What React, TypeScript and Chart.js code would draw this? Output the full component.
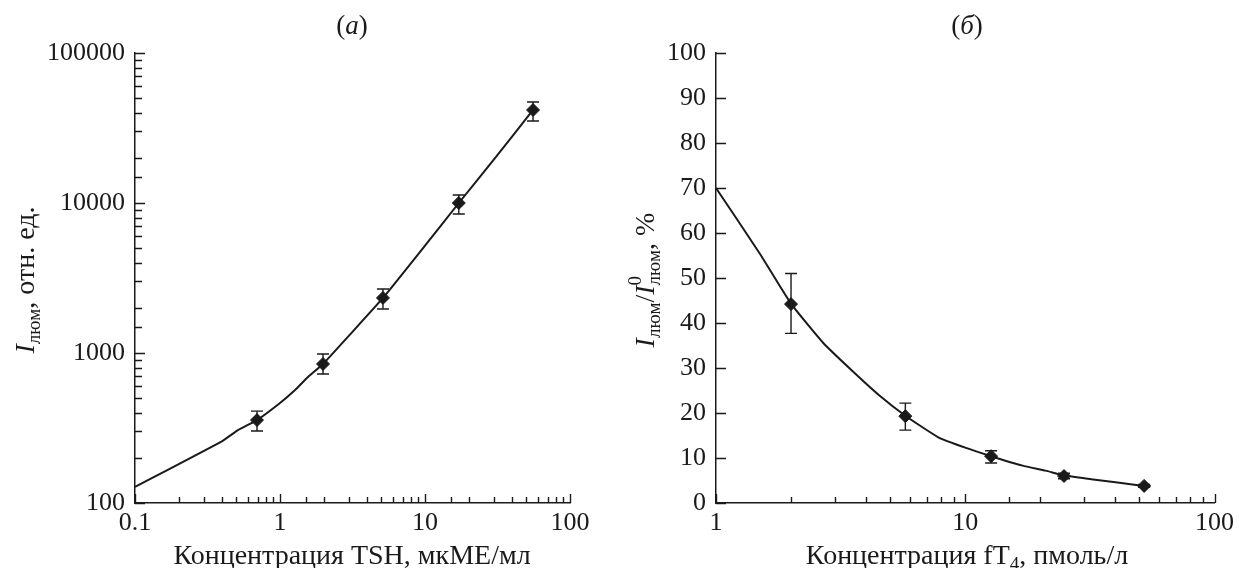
import React, { useEffect, useRef } from 'react';
import { Chart, registerables } from 'chart.js';

Chart.register(...registerables);

const FONT = '"Liberation Serif", "Times New Roman", "DejaVu Serif", serif';
const INK = '#1a1a1a';

// ---------- Panel (а): TSH ----------
const tshCurveX = [0.1, 0.4, 0.513, 0.694, 1.0, 1.27, 1.56, 1.98, 3, 5.13, 10, 17.1, 30, 55.6];
const tshCurveY = [128, 259, 306, 357, 464, 567, 692, 845, 1310, 2330, 5200, 10000, 19600, 41700];
const tshX = [0.694, 1.98, 5.13, 17.1, 55.6];
const tshY = [357, 845, 2330, 10000, 41700];
const tshErrLo = [302, 725, 1965, 8450, 35200];
const tshErrHi = [410, 985, 2670, 11300, 47100];
const tshXTicks = [0.1, 1, 10, 100];
const tshXTickLabels = ['0.1', '1', '10', '100'];
const tshYTicks = [100, 1000, 10000, 100000];
const tshYTickLabels = ['100', '1000', '10000', '100000'];

// ---------- Panel (б): fT4 ----------
const ft4CurveX = [1, 1.5, 2, 2.7, 3.5, 4.5, 5.75, 7.8, 10, 12.7, 17, 21, 25, 32, 52];
const ft4CurveY = [70, 55.4, 44.3, 35.5, 29.5, 24, 19.4, 14.6, 12.3, 10.4, 8.3, 7.2, 6.1, 5.3, 3.8];
const ft4X = [2.0, 5.75, 12.7, 24.9, 52.2];
const ft4Y = [44.2, 19.3, 10.4, 6.0, 3.8];
const ft4ErrLo = [37.7, 16.2, 8.9, 5.4, 3.5];
const ft4ErrHi = [51.0, 22.2, 11.6, 6.6, 4.1];
const ft4XTicks = [1, 10, 100];
const ft4XTickLabels = ['1', '10', '100'];
const ft4YTicks = [0, 10, 20, 30, 40, 50, 60, 70, 80, 90, 100];
const ft4YTickLabels = ['0', '10', '20', '30', '40', '50', '60', '70', '80', '90', '100'];

type Seg = { t: string; italic?: boolean; scale?: number; dy?: number; noAdvance?: boolean };

function drawRich(ctx: CanvasRenderingContext2D, segs: Seg[], px: number, py: number, size: number, rotate: boolean) {
  ctx.save();
  ctx.translate(px, py);
  if (rotate) ctx.rotate(-Math.PI / 2);
  ctx.fillStyle = INK;
  ctx.textBaseline = 'alphabetic';
  ctx.textAlign = 'left';
  const fontOf = (s: Seg) => `${s.italic ? 'italic ' : ''}${size * (s.scale || 1)}px ${FONT}`;
  let total = 0;
  segs.forEach((s) => {
    ctx.font = fontOf(s);
    if (!s.noAdvance) total += ctx.measureText(s.t).width;
  });
  let x = -total / 2;
  segs.forEach((s) => {
    ctx.font = fontOf(s);
    ctx.fillText(s.t, x, (s.dy || 0) * size);
    if (!s.noAdvance) x += ctx.measureText(s.t).width;
  });
  ctx.restore();
}

function findLabel(v: number, vals: number[], labels: string[]) {
  for (let i = 0; i < vals.length; i++) {
    if (Math.abs(v - vals[i]) <= Math.abs(vals[i]) * 1e-6 + 1e-9) return labels[i];
  }
  return '';
}

type PanelParams = {
  width: number;
  curveX: number[];
  curveY: number[];
  ptsX: number[];
  ptsY: number[];
  errLo: number[];
  errHi: number[];
  xMin: number;
  xMax: number;
  xTicks: number[];
  xLabels: string[];
  yType: 'logarithmic' | 'linear';
  yMin: number;
  yMax: number;
  yTicks: number[];
  yLabels: string[];
  yAxisWidth: number;
  padRight: number;
  yMinorTicks: boolean;
  panelLabel: Seg[];
  panelLabelX: number;
  yTitle: Seg[];
  yTitleX: number;
  xTitle: Seg[];
  xTitleX: number;
};

function makeConfig(p: PanelParams): any {
  const isMajor = (v: number, vals: number[]) => findLabel(v, vals, vals.map(() => 'x')) !== '';

  const decorPlugin = {
    id: 'decor',
    afterDatasetsDraw(chart: any) {
      const ctx: CanvasRenderingContext2D = chart.ctx;
      const xs = chart.scales.x;
      const ys = chart.scales.y;
      ctx.save();
      ctx.strokeStyle = INK;
      ctx.lineWidth = 1.4;
      for (let i = 0; i < p.ptsX.length; i++) {
        const px = xs.getPixelForValue(p.ptsX[i]);
        const y1 = ys.getPixelForValue(p.errLo[i]);
        const y2 = ys.getPixelForValue(p.errHi[i]);
        ctx.beginPath();
        ctx.moveTo(px, y1);
        ctx.lineTo(px, y2);
        ctx.moveTo(px - 6, y1);
        ctx.lineTo(px + 6, y1);
        ctx.moveTo(px - 6, y2);
        ctx.lineTo(px + 6, y2);
        ctx.stroke();
      }
      ctx.restore();
    },
    afterDraw(chart: any) {
      const ctx: CanvasRenderingContext2D = chart.ctx;
      const xs = chart.scales.x;
      const ys = chart.scales.y;
      const area = chart.chartArea;
      ctx.save();
      ctx.strokeStyle = INK;
      ctx.lineWidth = 1.4;
      ctx.beginPath();
      xs.ticks.forEach((t: any) => {
        const px = Math.round(xs.getPixelForValue(t.value)) + 0.5;
        const len = isMajor(t.value, p.xTicks) ? 9 : 6;
        ctx.moveTo(px, area.bottom);
        ctx.lineTo(px, area.bottom - len);
      });
      ys.ticks.forEach((t: any) => {
        const major = isMajor(t.value, p.yTicks);
        if (!major && !p.yMinorTicks) return;
        const py = Math.round(ys.getPixelForValue(t.value)) + 0.5;
        const len = major ? 10 : 7;
        ctx.moveTo(area.left, py);
        ctx.lineTo(area.left + len, py);
      });
      ctx.stroke();
      ctx.restore();
      drawRich(ctx, p.panelLabel, p.panelLabelX, 34, 27, false);
      drawRich(ctx, p.xTitle, p.xTitleX, 564, 28, false);
      drawRich(ctx, p.yTitle, p.yTitleX, 280, 28, true);
    },
  };

  const yScale: any = {
    type: p.yType,
    min: p.yMin,
    max: p.yMax,
    grid: { display: false, drawTicks: false },
    border: { display: true, color: INK, width: 1.5 },
    ticks: {
      color: INK,
      font: { family: FONT, size: 26 },
      padding: 10,
      autoSkip: false,
      callback: (v: number) => findLabel(v, p.yTicks, p.yLabels),
    },
    afterFit: (s: any) => {
      s.width = p.yAxisWidth;
    },
  };
  if (p.yType === 'linear') yScale.ticks.stepSize = 10;

  return {
    type: 'scatter',
    data: {
      datasets: [
        {
          data: p.curveX.map((x, i) => ({ x, y: p.curveY[i] })),
          showLine: true,
          borderColor: INK,
          borderWidth: 2,
          pointRadius: 0,
          tension: 0.15,
        },
        {
          data: p.ptsX.map((x, i) => ({ x, y: p.ptsY[i] })),
          showLine: false,
          pointStyle: 'rectRot',
          pointRadius: 6.5,
          backgroundColor: INK,
          borderColor: INK,
          borderWidth: 1,
        },
      ],
    },
    options: {
      responsive: false,
      animation: false,
      events: [],
      layout: { padding: { left: 0, top: 53, right: p.padRight, bottom: 0 } },
      plugins: { legend: { display: false }, tooltip: { enabled: false }, title: { display: false } },
      scales: {
        x: {
          type: 'logarithmic',
          position: 'bottom',
          min: p.xMin,
          max: p.xMax,
          grid: { display: false, drawTicks: false },
          border: { display: true, color: INK, width: 1.5 },
          ticks: {
            color: INK,
            font: { family: FONT, size: 26 },
            padding: 5,
            autoSkip: false,
            maxRotation: 0,
            minRotation: 0,
            callback: (v: number) => findLabel(v, p.xTicks, p.xLabels),
          },
          afterFit: (s: any) => {
            s.height = 65;
          },
        },
        y: yScale,
      },
    },
    plugins: [decorPlugin],
  };
}

function Panel({ left, params }: { left: number; params: PanelParams }) {
  const ref = useRef<HTMLCanvasElement>(null);
  useEffect(() => {
    const chart = new Chart(ref.current as HTMLCanvasElement, makeConfig(params));
    return () => chart.destroy();
  }, []);
  return (
    <canvas
      ref={ref}
      width={params.width}
      height={568}
      style={{ position: 'absolute', left, top: 0, width: params.width, height: 568 }}
    />
  );
}

const panelA: PanelParams = {
  width: 620,
  curveX: tshCurveX,
  curveY: tshCurveY,
  ptsX: tshX,
  ptsY: tshY,
  errLo: tshErrLo,
  errHi: tshErrHi,
  xMin: 0.1,
  xMax: 100,
  xTicks: tshXTicks,
  xLabels: tshXTickLabels,
  yType: 'logarithmic',
  yMin: 100,
  yMax: 100000,
  yTicks: tshYTicks,
  yLabels: tshYTickLabels,
  yAxisWidth: 135,
  padRight: 50,
  yMinorTicks: true,
  panelLabel: [{ t: '(' }, { t: 'а', italic: true }, { t: ')' }],
  panelLabelX: 352,
  yTitle: [{ t: 'I', italic: true }, { t: 'люм', scale: 0.68, dy: 0.22 }, { t: ', отн. ед.' }],
  yTitleX: 34,
  xTitle: [{ t: 'Концентрация TSH, мкМЕ/мл' }],
  xTitleX: 352,
};

const panelB: PanelParams = {
  width: 619,
  curveX: ft4CurveX,
  curveY: ft4CurveY,
  ptsX: ft4X,
  ptsY: ft4Y,
  errLo: ft4ErrLo,
  errHi: ft4ErrHi,
  xMin: 1,
  xMax: 100,
  xTicks: ft4XTicks,
  xLabels: ft4XTickLabels,
  yType: 'linear',
  yMin: 0,
  yMax: 100,
  yTicks: ft4YTicks,
  yLabels: ft4YTickLabels,
  yAxisWidth: 96,
  padRight: 20,
  yMinorTicks: false,
  panelLabel: [{ t: '(' }, { t: 'б', italic: true }, { t: ')' }],
  panelLabelX: 347,
  yTitle: [
    { t: 'I', italic: true },
    { t: 'люм', scale: 0.68, dy: 0.22 },
    { t: '/' },
    { t: 'I', italic: true },
    { t: '0', scale: 0.68, dy: -0.45, noAdvance: true },
    { t: 'люм', scale: 0.68, dy: 0.22 },
    { t: ', %' },
  ],
  yTitleX: 34,
  xTitle: [{ t: 'Концентрация fT' }, { t: '4', scale: 0.68, dy: 0.22 }, { t: ', пмоль/л' }],
  xTitleX: 347,
};

export default function App() {
  return (
    <div style={{ position: 'fixed', left: 0, top: 0, width: 1239, height: 568, background: '#fff', overflow: 'hidden' }}>
      <Panel left={0} params={panelA} />
      <Panel left={620} params={panelB} />
    </div>
  );
}
